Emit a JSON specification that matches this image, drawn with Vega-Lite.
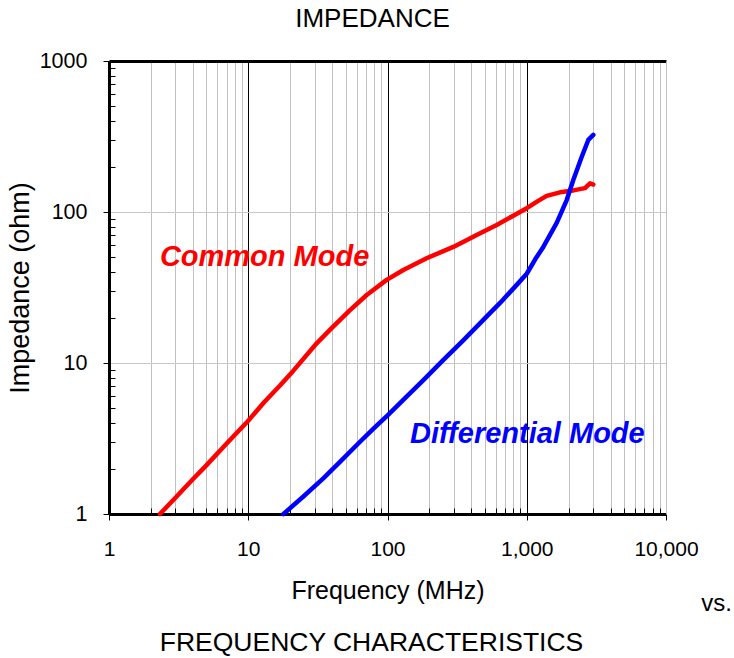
{
  "$schema": "https://vega.github.io/schema/vega-lite/v6.json",
  "width": 557,
  "height": 453,
  "autosize": {"type": "none"},
  "padding": {"left": 109, "top": 61, "right": 68, "bottom": 144},
  "config": {
    "font": "Liberation Sans",
    "view": {"stroke": null},
    "title": {"font": "Liberation Sans"}
  },
  "title": {
    "text": "FREQUENCY CHARACTERISTICS",
    "orient": "bottom",
    "anchor": "middle",
    "fontSize": 26.5,
    "fontWeight": "normal",
    "color": "black",
    "dx": -16,
    "offset": 15
  },
  "resolve": {"axis": {"x": "independent", "y": "independent"}},
  "layer": [
    {
      "data": {
        "values": [
          {"series": "Common Mode", "f": 2.32, "Z": 1.0},
          {"series": "Common Mode", "f": 3, "Z": 1.28},
          {"series": "Common Mode", "f": 4, "Z": 1.7},
          {"series": "Common Mode", "f": 5, "Z": 2.1},
          {"series": "Common Mode", "f": 7, "Z": 2.93},
          {"series": "Common Mode", "f": 10, "Z": 4.15},
          {"series": "Common Mode", "f": 13, "Z": 5.5},
          {"series": "Common Mode", "f": 16.9, "Z": 7.1},
          {"series": "Common Mode", "f": 21.1, "Z": 8.9},
          {"series": "Common Mode", "f": 31, "Z": 13.5},
          {"series": "Common Mode", "f": 39.7, "Z": 17},
          {"series": "Common Mode", "f": 53.8, "Z": 22.4},
          {"series": "Common Mode", "f": 70.9, "Z": 28.2},
          {"series": "Common Mode", "f": 98.6, "Z": 35.5},
          {"series": "Common Mode", "f": 130, "Z": 41.3},
          {"series": "Common Mode", "f": 191, "Z": 49.4},
          {"series": "Common Mode", "f": 297, "Z": 58.7},
          {"series": "Common Mode", "f": 437, "Z": 70.4},
          {"series": "Common Mode", "f": 608, "Z": 82},
          {"series": "Common Mode", "f": 800, "Z": 94.5},
          {"series": "Common Mode", "f": 1000, "Z": 106},
          {"series": "Common Mode", "f": 1200, "Z": 118},
          {"series": "Common Mode", "f": 1390, "Z": 128},
          {"series": "Common Mode", "f": 1733, "Z": 135},
          {"series": "Common Mode", "f": 2159, "Z": 139},
          {"series": "Common Mode", "f": 2620, "Z": 144},
          {"series": "Common Mode", "f": 2845, "Z": 155},
          {"series": "Common Mode", "f": 3006, "Z": 152},
          {"series": "Differential Mode", "f": 17.9, "Z": 1.0},
          {"series": "Differential Mode", "f": 25, "Z": 1.31},
          {"series": "Differential Mode", "f": 34.6, "Z": 1.72},
          {"series": "Differential Mode", "f": 45, "Z": 2.19},
          {"series": "Differential Mode", "f": 63.5, "Z": 3.01},
          {"series": "Differential Mode", "f": 80, "Z": 3.7},
          {"series": "Differential Mode", "f": 101, "Z": 4.53},
          {"series": "Differential Mode", "f": 140, "Z": 6.1},
          {"series": "Differential Mode", "f": 181, "Z": 7.71},
          {"series": "Differential Mode", "f": 250, "Z": 10.4},
          {"series": "Differential Mode", "f": 350, "Z": 14.1},
          {"series": "Differential Mode", "f": 488, "Z": 19.3},
          {"series": "Differential Mode", "f": 643, "Z": 25},
          {"series": "Differential Mode", "f": 847, "Z": 32.9},
          {"series": "Differential Mode", "f": 1000, "Z": 39},
          {"series": "Differential Mode", "f": 1150, "Z": 48.6},
          {"series": "Differential Mode", "f": 1315, "Z": 58.7},
          {"series": "Differential Mode", "f": 1641, "Z": 84.6},
          {"series": "Differential Mode", "f": 1936, "Z": 120},
          {"series": "Differential Mode", "f": 2159, "Z": 163},
          {"series": "Differential Mode", "f": 2479, "Z": 231},
          {"series": "Differential Mode", "f": 2767, "Z": 300},
          {"series": "Differential Mode", "f": 3006, "Z": 324}
        ]
      },
      "mark": {"type": "line", "strokeWidth": 4.5, "strokeCap": "round", "strokeJoin": "round"},
      "encoding": {
        "x": {
          "field": "f",
          "type": "quantitative",
          "scale": {"type": "log", "domain": [1, 10000], "nice": false},
          "axis": {
            "orient": "bottom",
            "values": [1,2,3,4,5,6,7,8,9,10,20,30,40,50,60,70,80,90,100,200,300,400,500,600,700,800,900,1000,2000,3000,4000,5000,6000,7000,8000,9000,10000],
            "labelExpr": "indexof([1,10,100,1000,10000], datum.value) >= 0 ? format(datum.value, ',') : ''",
            "grid": true,
            "gridColor": {"condition": {"test": "indexof([10,100,1000], datum.value) >= 0", "value": "#000000"}, "value": "#c0c0c0"},
            "gridWidth": 1,
            "domainColor": "#000000",
            "domainWidth": 3,
            "tickColor": "#000000",
            "tickWidth": 1,
            "tickSize": {"condition": {"test": "indexof([1,10,100,1000,10000], datum.value) >= 0", "value": 6}, "value": -6},
            "labelFontSize": 21,
            "labelColor": "#000000",
            "labelPadding": 18,
            "labelFlush": false,
            "labelOverlap": false,
            "title": "Frequency (MHz)",
            "titleFontSize": 25,
            "titleFontWeight": "normal",
            "titleColor": "#000000",
            "titlePadding": 19
          }
        },
        "y": {
          "field": "Z",
          "type": "quantitative",
          "scale": {"type": "log", "domain": [1, 1000], "nice": false},
          "axis": {
            "orient": "left",
            "values": [1,2,3,4,5,6,7,8,9,10,20,30,40,50,60,70,80,90,100,200,300,400,500,600,700,800,900,1000],
            "labelExpr": "indexof([1,10,100,1000], datum.value) >= 0 ? '' + datum.value : ''",
            "grid": true,
            "gridColor": "#c8c8c8",
            "gridOpacity": {"condition": {"test": "datum.value == 10 || datum.value == 100", "value": 1}, "value": 0},
            "gridWidth": 1,
            "domainColor": "#000000",
            "domainWidth": 3,
            "tickColor": "#000000",
            "tickWidth": 1,
            "tickSize": {"condition": {"test": "indexof([1,10,100,1000], datum.value) >= 0", "value": 6}, "value": -6},
            "labelFontSize": 21.5,
            "labelColor": "#000000",
            "labelPadding": 16,
            "labelFlush": false,
            "labelOverlap": false,
            "title": "Impedance (ohm)",
            "titleFontSize": 27,
            "titleFontWeight": "normal",
            "titleColor": "#000000",
            "titlePadding": 5
          }
        },
        "color": {
          "field": "series",
          "type": "nominal",
          "scale": {"domain": ["Common Mode", "Differential Mode"], "range": ["#ff0000", "#0000ff"]},
          "legend": null
        }
      }
    },
    {
      "data": {
        "values": [
          {"series": "Common Mode", "f": 2.32, "Z": 50},
          {"series": "Differential Mode", "f": 145, "Z": 3.39}
        ]
      },
      "mark": {"type": "text", "fontSize": 29, "fontWeight": "bold", "fontStyle": "italic", "align": "left", "baseline": "middle"},
      "encoding": {
        "x": {
          "field": "f",
          "type": "quantitative",
          "axis": {
            "orient": "top",
            "domainColor": "#000000",
            "domainWidth": 3,
            "ticks": false,
            "labels": false,
            "grid": false,
            "title": "IMPEDANCE",
            "titleFontSize": 26,
            "titleFontWeight": "normal",
            "titleColor": "#000000",
            "titleX": 263,
            "titlePadding": 30
          }
        },
        "y": {
          "field": "Z",
          "type": "quantitative",
          "axis": {
            "orient": "right",
            "domainColor": "#c0c0c0",
            "domainWidth": 1,
            "ticks": false,
            "labels": false,
            "grid": false,
            "title": "vs.",
            "titleAngle": 0,
            "titleX": 50,
            "titleY": 542,
            "titleAlign": "center",
            "titleBaseline": "middle",
            "titleFontSize": 24,
            "titleFontWeight": "normal",
            "titleColor": "#000000"
          }
        },
        "text": {"field": "series", "type": "nominal"},
        "color": {"field": "series", "type": "nominal", "legend": null}
      }
    }
  ]
}
